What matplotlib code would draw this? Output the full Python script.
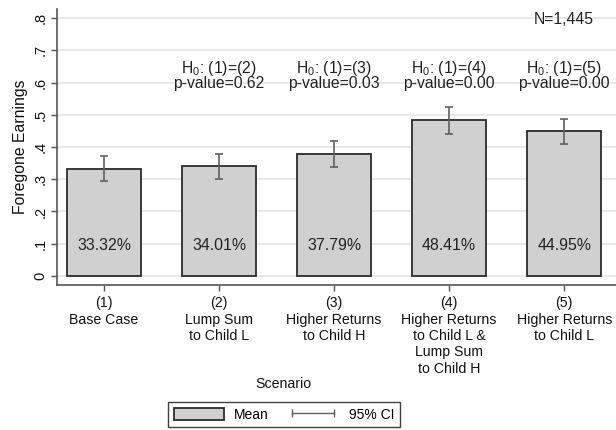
import matplotlib
matplotlib.use("Agg")
import matplotlib.pyplot as plt
from matplotlib.patches import Patch
from matplotlib.lines import Line2D

plt.rcParams['font.family'] = ['Liberation Sans', 'DejaVu Sans']
plt.rcParams['mathtext.default'] = 'regular'

# Data
scenarios = ["(1)\nBase Case",
             "(2)\nLump Sum\nto Child L",
             "(3)\nHigher Returns\nto Child H",
             "(4)\nHigher Returns\nto Child L &\nLump Sum\nto Child H",
             "(5)\nHigher Returns\nto Child L"]
means = [0.3332, 0.3401, 0.3779, 0.4841, 0.4495]
ci_low = [0.294, 0.300, 0.337, 0.441, 0.410]
ci_high = [0.372, 0.379, 0.419, 0.524, 0.488]
tests = ["(1)=(2)", "(1)=(3)", "(1)=(4)", "(1)=(5)"]
pvalues = [0.62, 0.03, 0.00, 0.00]
n_obs = "N=1,445"
yticks = [0, .1, .2, .3, .4, .5, .6, .7, .8]
ytick_labels = ["0", ".1", ".2", ".3", ".4", ".5", ".6", ".7", ".8"]

W, H = 616, 430
fig = plt.figure(figsize=(W / 100, H / 100), dpi=100)
ax = fig.add_axes([57 / W, 1 - 285 / H, 1 - 57 / W, (285 - 9) / H])

x = list(range(1, len(means) + 1))
bar_fill = '#d0d0d0'
edge = '#2b2b2b'
ci_col = '#606060'

ax.set_axisbelow(True)
for t in yticks:
    ax.axhline(t, color='#e9e9e9', lw=1.4, zorder=0)

ax.bar(x, means, width=0.64, color=bar_fill, edgecolor=edge, linewidth=1.3, zorder=2)
err_lo = [m - l for m, l in zip(means, ci_low)]
err_hi = [h - m for m, h in zip(means, ci_high)]
ax.errorbar(x, means, yerr=[err_lo, err_hi], fmt='none', ecolor=ci_col,
            elinewidth=1.2, capsize=2.6, capthick=1.2, zorder=3)

for xi, m in zip(x, means):
    ax.text(xi, 0.093, f"{m * 100:.2f}%", ha='center', va='center',
            fontsize=11.4, color='#222222', zorder=4)

for xi, t, p in zip(x[1:], tests, pvalues):
    ax.text(xi, 0.645, f"H$_0$: {t}", ha='center', va='center',
            fontsize=11.3, color='#222222')
    ax.text(xi, 0.598, f"p-value={p:.2f}", ha='center', va='center',
            fontsize=11.3, color='#222222')

ax.text(x[-1], 0.794, n_obs, ha='center', va='center', fontsize=11.3, color='#222222')

ax.set_xlim(0.591, 5.45)
ax.set_ylim(-0.028, 0.828)
ax.set_yticks(yticks)
ax.set_yticklabels(ytick_labels, rotation=90, va='center', fontsize=10.5)
ax.set_xticks(x)
ax.set_xticklabels(scenarios, fontsize=10.2, linespacing=1.22)
ax.tick_params(axis='both', colors='#555555', labelcolor='#111111', length=4, width=1)
ax.tick_params(axis='x', pad=4)
ax.tick_params(axis='y', pad=3)

for s in ['top', 'right']:
    ax.spines[s].set_visible(False)
for s in ['left', 'bottom']:
    ax.spines[s].set_color('#555555')
    ax.spines[s].set_linewidth(1.2)

fig.text(20.5 / W, 1 - 147 / H, "Foregone Earnings", rotation=90, ha='center',
         va='center', fontsize=11.3, color='#111111')
fig.text(283 / W, 1 - 384 / H, "Scenario", ha='center', va='center',
         fontsize=10.2, color='#111111')

handles = [Patch(facecolor=bar_fill, edgecolor=edge, linewidth=1.3),
           Line2D([0, 1], [0, 0], color=ci_col, lw=1, marker='|', markersize=6,
                  markeredgewidth=1)]
leg = fig.legend(handles, ["Mean", "95% CI"], loc='upper left',
                 bbox_to_anchor=(168 / W, 1 - 402 / H), ncol=2, fontsize=10,
                 frameon=True, fancybox=False, edgecolor='#111111',
                 handlelength=3.6, handleheight=1.05, numpoints=2,
                 borderpad=0.4, columnspacing=1.4, handletextpad=0.75,
                 borderaxespad=0)
leg.get_frame().set_linewidth(1.0)

fig.savefig("out.png", dpi=100)
